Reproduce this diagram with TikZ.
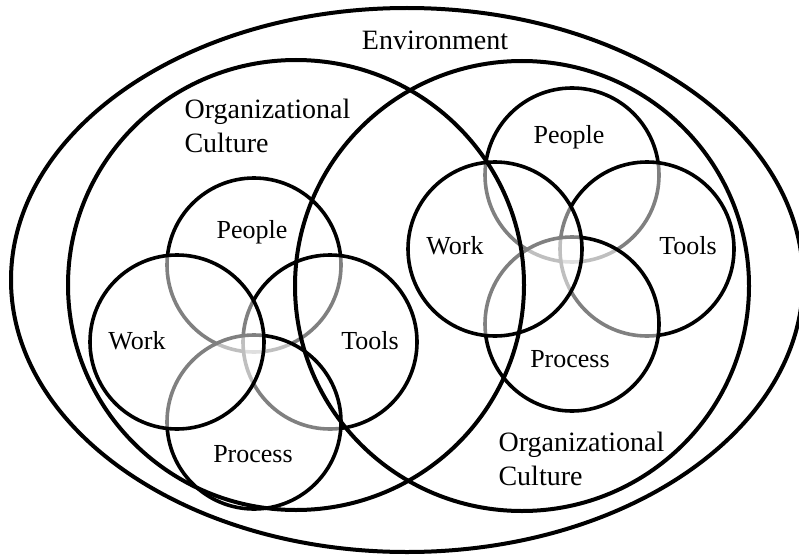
\documentclass[tikz,border=0pt]{standalone}
\usepackage{fontspec}
\setmainfont{Liberation Serif}
\usepackage{tikz}

\begin{document}
\begin{tikzpicture}[x=1pt,y=-1pt,
    ring/.style={shape=circle,draw,line width=3.6pt,minimum size=174pt,inner sep=0pt,fill=white,fill opacity=0.5},
    word/.style={font=\fontsize{26}{30}\selectfont,anchor=base},
    title/.style={font=\fontsize{28}{34}\selectfont,align=left,anchor=base west}]
        \useasboundingbox[fill=white] (0,0) rectangle (799,559);
        % left group
        \node[ring] (lpeople) at (254,265) {};
        \node[ring] (ltools) at (330,342) {};
        \node[ring] (lprocess) at (254,422) {};
        \node[ring] (lwork) at (177,342) {};
        % right group
        \node[ring] (rpeople) at (572,175) {};
        \node[ring] (rtools) at (647,249) {};
        \node[ring] (rprocess) at (572,324) {};
        \node[ring] (rwork) at (495,249) {};
        % environment and cultures
        \draw[line width=4pt] (407,280) ellipse [x radius=396, y radius=272];
        \draw[line width=4pt] (296,285) ellipse [x radius=228, y radius=225];
        \draw[line width=4pt] (522,286) ellipse [x radius=227, y radius=225];
        \node[title,anchor=base] (env) at (435,50) {Environment};
        \node[title] (lculture) at (181,152) {Organizational\\Culture};
        \node[title] (rculture) at (495,485) {Organizational\\Culture};
        \node[word] (lpeopletxt) at (252,238) {People};
        \node[word] (lworktxt) at (137,349) {Work};
        \node[word] (ltoolstxt) at (370,349) {Tools};
        \node[word] (lprocesstxt) at (253,462) {Process};
        \node[word] (rpeopletxt) at (569,143) {People};
        \node[word] (rworktxt) at (455,254) {Work};
        \node[word] (rtoolstxt) at (688,254) {Tools};
        \node[word] (rprocesstxt) at (570,367) {Process};
      \end{tikzpicture}
\end{document}
